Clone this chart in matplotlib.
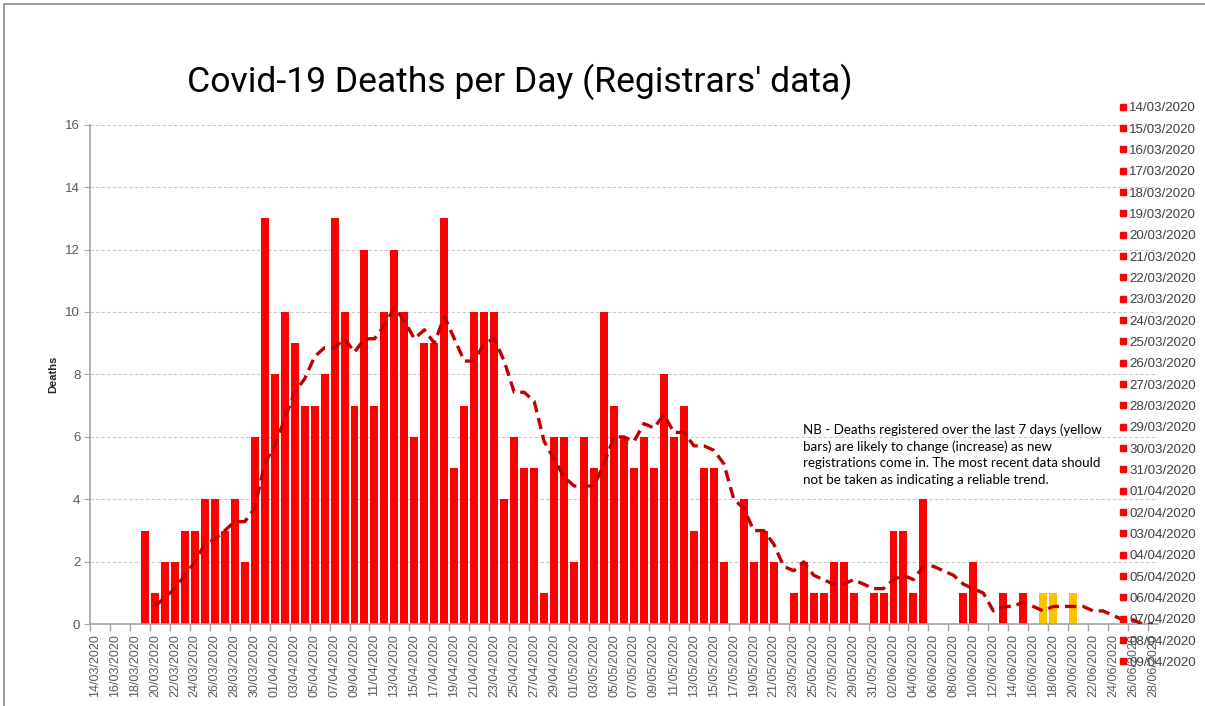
import numpy as np
import pandas as pd
import matplotlib
matplotlib.use('Agg')
import matplotlib.pyplot as plt
from matplotlib.lines import Line2D
from matplotlib.patches import Rectangle

# one category per day, 14/03/2020 - 28/06/2020
dates = pd.date_range('2020-03-14', '2020-06-28', freq='D')
date_labels = [d.strftime('%d/%m/%Y') for d in dates]

# daily deaths
deaths_mar = [0, 0, 0, 0, 0, 3, 1, 2, 2, 3, 3, 4, 4, 3, 4, 2, 6, 13]   # 14/03 - 31/03
deaths_apr = [8, 10, 9, 7, 7, 8, 13, 10, 7, 12, 7, 10, 12, 10, 6, 9, 9, 13, 5, 7,
              10, 10, 10, 4, 6, 5, 5, 1, 6, 6]                         # 01/04 - 30/04
deaths_may = [2, 6, 5, 10, 7, 6, 5, 6, 5, 8, 6, 7, 3, 5, 5, 2, 0, 4, 2, 3,
              2, 0, 1, 2, 1, 1, 2, 2, 1, 0, 1]                         # 01/05 - 31/05
deaths_jun = [1, 3, 3, 1, 4, 0, 0, 0, 1, 2, 0, 0, 1, 0, 1, 0, 1, 1, 0, 1,
              0, 0, 0, 0, 0, 0, 0, 0]                                  # 01/06 - 28/06
deaths = deaths_mar + deaths_apr + deaths_may + deaths_jun

# bars from this day on are provisional (yellow)
first_provisional = '17/06/2020'
# the legend only shows the first 27 categories
legend_labels = date_labels[:27]

title = "Covid-19 Deaths per Day (Registrars' data)"
note = ("NB - Deaths registered over the last 7 days (yellow\n"
        "bars) are likely to change (increase) as new\n"
        "registrations come in. The most recent data should\n"
        "not be taken as indicating a reliable trend.")

W, H = 1205, 706
fig = plt.figure(figsize=(W / 100, H / 100), dpi=100)
fig.patch.set_facecolor('white')
plt.rcParams['font.family'] = ['Liberation Sans', 'DejaVu Sans']

# plot area in pixels: x 90..1158, y 124.6..624.3
ax = fig.add_axes([90 / W, 1 - 624.3 / H, (1158 - 90) / W, (624.3 - 124.6) / H])

x = np.arange(len(deaths))
cut = date_labels.index(first_provisional)
colors = ['#FF0000' if i < cut else '#FFC000' for i in x]
ax.bar(x, deaths, width=0.8, color=colors, zorder=2)

# 7 day moving average trendline
trend = pd.Series(deaths).rolling(7).mean()
ax.plot(x, trend, color='#C00000', lw=2.4, ls=(0, (3.4, 1.8)), zorder=3,
        dash_capstyle='butt', dash_joinstyle='round')

ax.set_xlim(-0.5, len(deaths) - 0.5)
ax.set_ylim(0, 16)
ax.set_yticks(np.arange(0, 17, 2))
ax.yaxis.grid(True, color='#c8c8c8', ls=(0, (3, 2)), lw=0.8)
ax.set_axisbelow(True)

ax.set_xticks(x[::2])
ax.set_xticklabels(date_labels[::2], rotation=90)
ax.set_xticks(np.arange(-0.5, len(deaths) - 1, 2), minor=True)
ax.tick_params(axis='x', which='major', length=0, pad=7, labelsize=9, labelcolor='#595959')
ax.tick_params(axis='x', which='minor', length=5, color='#a6a6a6', width=1)
ax.tick_params(axis='y', length=4, color='#a6a6a6', labelsize=9.5, labelcolor='#595959', pad=3)

for s in ['top', 'right']:
    ax.spines[s].set_visible(False)
for s in ['left', 'bottom']:
    ax.spines[s].set_color('#a6a6a6')
    ax.spines[s].set_linewidth(1.2)

ax.set_ylabel('Deaths', fontsize=8, fontweight='bold', color='#262626', labelpad=5)

# legend (only the date list, red squares)
handles = [Line2D([], [], ls='none', marker='s', markersize=4.5, color='#FF0000')
           for _ in legend_labels]
fig.legend(handles, legend_labels, loc='upper left',
           bbox_to_anchor=(1120 / W, 1 - 102 / H), frameon=False,
           fontsize=9.6, labelcolor='#404040', handlelength=0.5,
           handletextpad=0.2, labelspacing=0.675, borderpad=0, borderaxespad=0)

t = fig.text(519.5 / W, 1 - 82 / H, title, ha='center', va='center', color='black',
             fontsize=28, family=['Liberation Sans Narrow', 'Roboto', 'DejaVu Sans'])
n = fig.text(803 / W, 1 - 423 / H, note, ha='left', va='top', color='black',
             fontsize=10.5, family=['Lato', 'DejaVu Sans'], linespacing=1.45)

# scale title and note to their width in the reference
fig.canvas.draw()
r = fig.canvas.get_renderer()
for txt, target in [(t, 665), (n, 300)]:
    w = txt.get_window_extent(r).width
    txt.set_fontsize(txt.get_fontsize() * target / w)

# chart border
fig.add_artist(Rectangle((4 / W, -0.5), 2, 1.5 - 4 / H, transform=fig.transFigure,
                         fill=False, edgecolor='#8c8c8c', lw=1.2, clip_on=False))

fig.savefig('out.png', dpi=100)
